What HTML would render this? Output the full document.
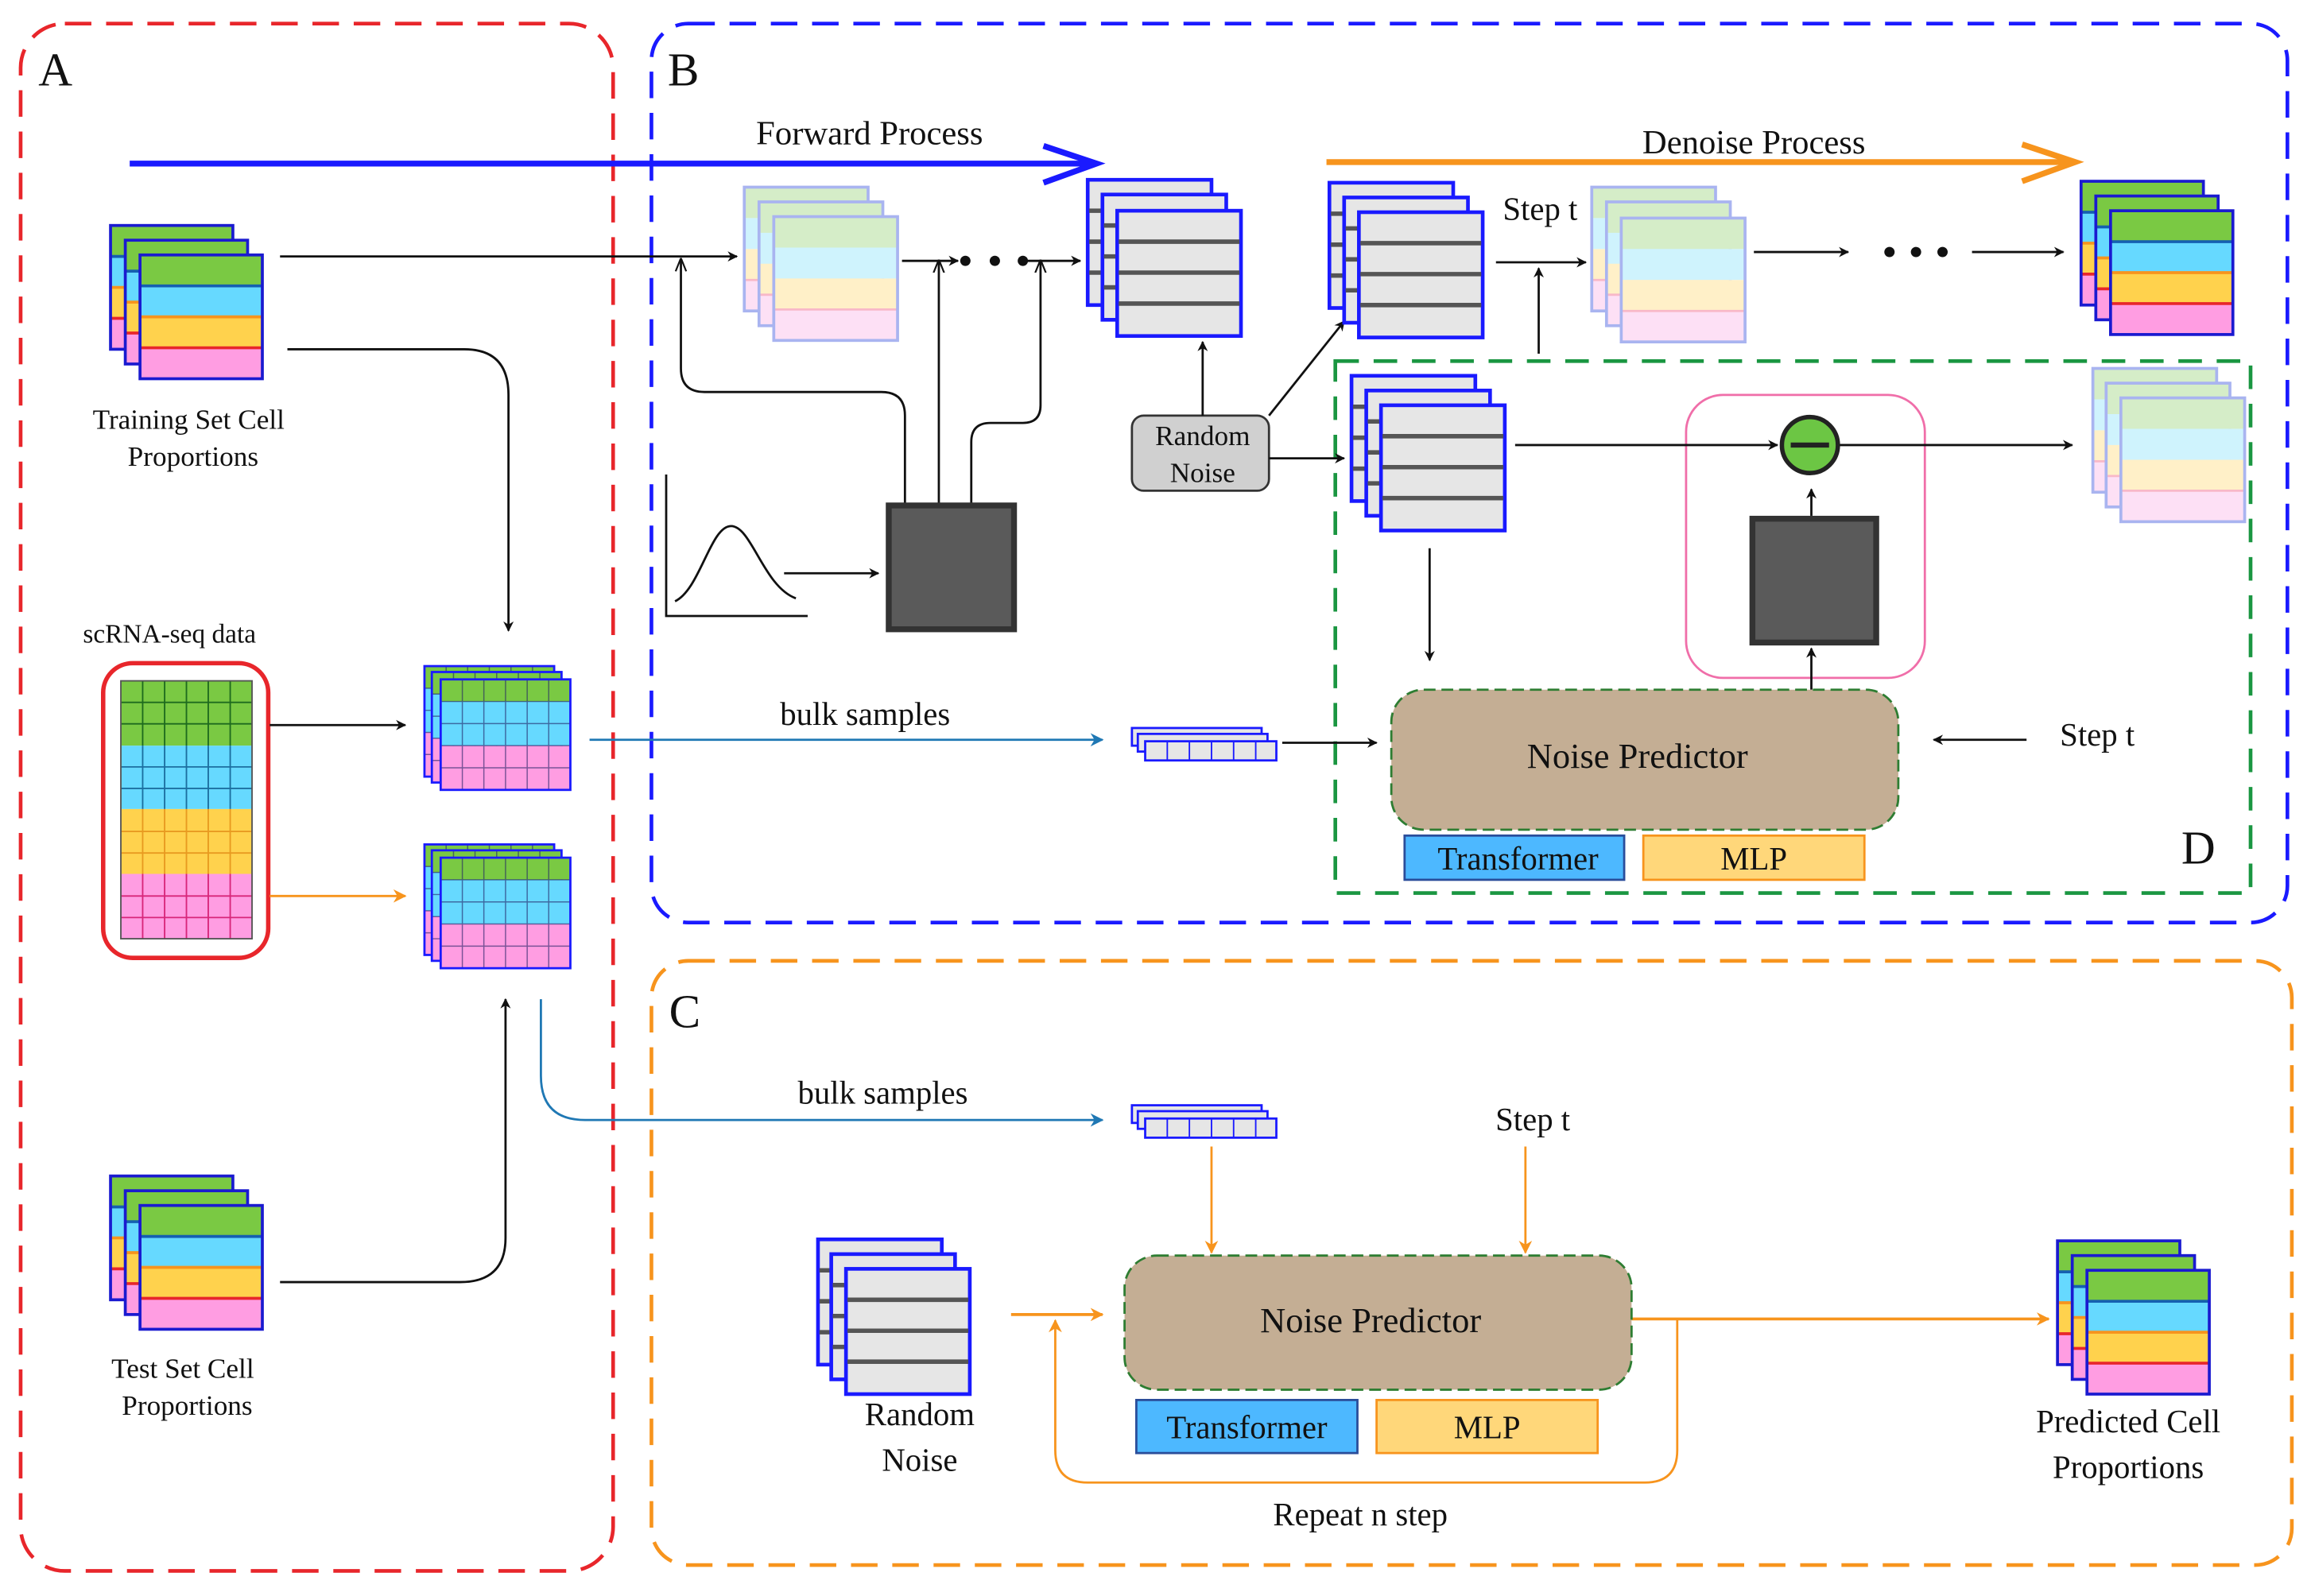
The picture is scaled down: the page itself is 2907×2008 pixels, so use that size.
<!DOCTYPE html>
<html><head><meta charset="utf-8"><style>html,body{margin:0;padding:0;background:#fff}svg{display:block}svg text{font-family:"Liberation Serif","DejaVu Serif",serif;fill:#111}</style></head><body>
<svg width="2907" height="2008" viewBox="0 0 1568 1083" preserveAspectRatio="none" xmlns="http://www.w3.org/2000/svg" font-family="'Liberation Serif', 'DejaVu Serif', serif">
<defs>
<marker id="ak" viewBox="0 0 10 10" refX="9" refY="5" markerWidth="7" markerHeight="7" orient="auto-start-reverse" markerUnits="userSpaceOnUse"><path d="M0,0 L10,5 L0,10 L3,5 z" fill="#111"/></marker>
<marker id="ao" viewBox="0 0 10 10" refX="9" refY="5" markerWidth="9" markerHeight="9" orient="auto" markerUnits="userSpaceOnUse"><path d="M0,0 L10,5 L0,10 L3,5 z" fill="#f7941d"/></marker>
<marker id="ab" viewBox="0 0 10 10" refX="9" refY="5" markerWidth="9" markerHeight="9" orient="auto" markerUnits="userSpaceOnUse"><path d="M0,0 L10,5 L0,10 L3,5 z" fill="#1f78b4"/></marker>
<marker id="av" viewBox="0 0 10 10" refX="9" refY="5" markerWidth="9" markerHeight="9" orient="auto" markerUnits="userSpaceOnUse"><path d="M0,1 L10,5 L0,9" fill="none" stroke="#111" stroke-width="1.3"/></marker>
<symbol id="cc" overflow="visible"><rect x="0" y="0" width="83" height="21" fill="#7ac943"/><rect x="0" y="21" width="83" height="21" fill="#66d9ff"/><rect x="0" y="42" width="83" height="21" fill="#ffd24d"/><rect x="0" y="63" width="83" height="21" fill="#ff9de2"/><line x1="0" y1="21" x2="83" y2="21" stroke="#1560b0" stroke-width="2"/><line x1="0" y1="42" x2="83" y2="42" stroke="#f7941d" stroke-width="2"/><line x1="0" y1="63" x2="83" y2="63" stroke="#e8262b" stroke-width="2"/><rect x="0" y="0" width="83" height="84" fill="none" stroke="#1a1ad0" stroke-width="2"/></symbol>
<symbol id="pc" overflow="visible"><rect x="0" y="0" width="84" height="21" fill="#d5edc8"/><rect x="0" y="21" width="84" height="21" fill="#cff3fd"/><rect x="0" y="42" width="84" height="21" fill="#fff0c8"/><rect x="0" y="63" width="84" height="21" fill="#fde0f5"/><line x1="0" y1="63" x2="84" y2="63" stroke="#f8b8c8" stroke-width="1.5"/><rect x="0" y="0" width="84" height="84" fill="none" stroke="#a9b4f0" stroke-width="2"/></symbol>
<symbol id="gc" overflow="visible"><rect x="0" y="0" width="84" height="85" fill="#e6e6e6" stroke="#1a1aff" stroke-width="2.5"/><line x1="1" y1="21" x2="83" y2="21" stroke="#555" stroke-width="3"/><line x1="1" y1="42" x2="83" y2="42" stroke="#555" stroke-width="3"/><line x1="1" y1="63" x2="83" y2="63" stroke="#555" stroke-width="3"/></symbol>
<symbol id="grd" overflow="visible"><rect x="0" y="0" width="88" height="15" fill="#7ac943"/><rect x="0" y="15" width="88" height="30" fill="#66d9ff"/><rect x="0" y="45" width="88" height="30" fill="#ff9de2"/><path d="M14.7,0V75M29.3,0V75M44,0V75M58.7,0V75M73.3,0V75M0,15H88M0,30H88M0,45H88M0,60H88" stroke="#226" stroke-width="0.8" opacity="0.6"/><rect x="0" y="0" width="88" height="75" fill="none" stroke="#1a1aff" stroke-width="1.5"/></symbol>
<symbol id="bk" overflow="visible"><rect x="0" y="0" width="88" height="12" fill="#e6e6e6" stroke="#1a1aff" stroke-width="1.5"/><rect x="4" y="4" width="88" height="12" fill="#e6e6e6" stroke="#1a1aff" stroke-width="1.5"/><rect x="9" y="9" width="89" height="13" fill="#e6e6e6" stroke="#1a1aff" stroke-width="1.5"/><path d="M24,9V22M39,9V22M54,9V22M69,9V22M84,9V22" stroke="#1a1aff" stroke-width="1"/></symbol>
</defs>

<rect x="14" y="16" width="402" height="1050" rx="30" fill="none" stroke="#e8262b" stroke-width="2.5" stroke-dasharray="18 10"/>
<rect x="442" y="16" width="1110" height="610" rx="25" fill="none" stroke="#1a1aff" stroke-width="2.5" stroke-dasharray="18 10"/>
<rect x="442" y="652" width="1113" height="410" rx="25" fill="none" stroke="#f7941d" stroke-width="2.5" stroke-dasharray="18 10"/>
<rect x="906" y="245" width="621" height="361" fill="none" stroke="#1a9641" stroke-width="2.5" stroke-dasharray="16 10"/>
<text x="26" y="58" font-size="32">A</text>
<text x="453" y="58" font-size="32">B</text>
<text x="454" y="697" font-size="32">C</text>
<text x="1480" y="586" font-size="32">D</text>

<line x1="88" y1="111" x2="742" y2="111" stroke="#1a1aff" stroke-width="4"/>
<path d="M708,99 L744,111 L708,124" fill="none" stroke="#1a1aff" stroke-width="4"/>
<text x="590" y="98" font-size="23" text-anchor="middle">Forward Process</text>
<line x1="900" y1="110" x2="1405" y2="110" stroke="#f7941d" stroke-width="4"/>
<path d="M1372,98 L1408,110 L1372,123" fill="none" stroke="#f7941d" stroke-width="4"/>
<text x="1190" y="104" font-size="23" text-anchor="middle">Denoise Process</text>

<use href="#cc" x="75" y="153"/><use href="#cc" x="85" y="163"/><use href="#cc" x="95" y="173"/>
<text x="128" y="291" font-size="19" text-anchor="middle">Training Set Cell</text>
<text x="131" y="316" font-size="19" text-anchor="middle">Proportions</text>
<use href="#cc" x="75" y="798"/><use href="#cc" x="85" y="808"/><use href="#cc" x="95" y="818"/>
<text x="124" y="935" font-size="19" text-anchor="middle">Test Set Cell</text>
<text x="127" y="960" font-size="19" text-anchor="middle">Proportions</text>
<text x="115" y="436" font-size="18" text-anchor="middle">scRNA-seq data</text>
<rect x="70" y="450" width="112" height="200" rx="20" fill="#fff" stroke="#e8262b" stroke-width="3"/>
<rect x="82" y="462" width="89" height="44" fill="#7ac943"/>
<rect x="82" y="506" width="89" height="43" fill="#66d9ff"/>
<rect x="82" y="549" width="89" height="44" fill="#ffd24d"/>
<rect x="82" y="593" width="89" height="44" fill="#ff9de2"/>
<g stroke-width="1"><path d="M96.8,462V506M111.7,462V506M126.5,462V506M141.3,462V506M156.2,462V506M82,476.6H171M82,491.2H171" stroke="#1e6b1e"/>
<path d="M96.8,506V549M111.7,506V549M126.5,506V549M141.3,506V549M156.2,506V549M82,520.4H171M82,535H171" stroke="#1c6fa0"/>
<path d="M96.8,549V593M111.7,549V593M126.5,549V593M141.3,549V593M156.2,549V593M82,564.2H171M82,578.8H171" stroke="#e89a20"/>
<path d="M96.8,593V637M111.7,593V637M126.5,593V637M141.3,593V637M156.2,593V637M82,608H171M82,622.6H171" stroke="#d8267a"/></g>
<rect x="82" y="462" width="89" height="175" fill="none" stroke="#555" stroke-width="1"/>
<use href="#grd" x="288" y="452"/><use href="#grd" x="293" y="456"/><use href="#grd" x="299" y="461"/>
<use href="#grd" x="288" y="573"/><use href="#grd" x="293" y="577"/><use href="#grd" x="299" y="582"/>
<g fill="none" stroke="#111" stroke-width="1.5">
<line x1="190" y1="174" x2="500" y2="174" marker-end="url(#ak)"/>
<path d="M195,237 H315 Q345,237 345,268 V428" marker-end="url(#ak)"/>
<line x1="183" y1="492" x2="275" y2="492" marker-end="url(#ak)"/>
<path d="M190,870 H312 Q343,870 343,840 V678" marker-end="url(#ak)"/>
</g>
<line x1="183" y1="608" x2="275" y2="608" stroke="#f7941d" stroke-width="1.5" marker-end="url(#ao)"/>
<line x1="400" y1="502" x2="748" y2="502" stroke="#1f78b4" stroke-width="1.5" marker-end="url(#ab)"/>
<text x="587" y="492" font-size="22" text-anchor="middle">bulk samples</text>
<path d="M367,678 V730 Q367,760 397,760 H748" fill="none" stroke="#1f78b4" stroke-width="1.5" marker-end="url(#ab)"/>
<text x="599" y="749" font-size="22" text-anchor="middle">bulk samples</text>

<use href="#pc" x="505" y="127"/><use href="#pc" x="515" y="137"/><use href="#pc" x="525" y="147"/>
<g fill="none" stroke="#111" stroke-width="1.5">
<line x1="612" y1="177" x2="650" y2="177" marker-end="url(#ak)"/>
<line x1="696" y1="177" x2="733" y2="177" marker-end="url(#ak)"/>
<path d="M614,342 V282 Q614,266 598,266 H478 Q462,266 462,250 V176" marker-end="url(#av)"/>
<line x1="637" y1="342" x2="637" y2="177" marker-end="url(#av)"/>
<path d="M659,342 V300 Q659,287 672,287 H694 Q706,287 706,275 V177" marker-end="url(#av)"/>
<path d="M452,322 V418 H548"/>
<path d="M458,408 C475,400 482,357 496,357 C510,357 518,398 540,406"/>
<line x1="532" y1="389" x2="596" y2="389" marker-end="url(#ak)"/>
</g>
<circle cx="655" cy="177" r="3.5" fill="#111"/><circle cx="675" cy="177" r="3.5" fill="#111"/><circle cx="694" cy="177" r="3.5" fill="#111"/>
<rect x="603" y="343" width="85" height="84" fill="#5a5a5a" stroke="#333" stroke-width="4"/>
<use href="#gc" x="738" y="122"/><use href="#gc" x="748" y="132"/><use href="#gc" x="758" y="143"/>
<rect x="768" y="282" width="93" height="51" rx="8" fill="#d0d0d0" stroke="#333" stroke-width="1.5"/>
<text x="816" y="302" font-size="19" text-anchor="middle">Random</text>
<text x="816" y="327" font-size="19" text-anchor="middle">Noise</text>
<g fill="none" stroke="#111" stroke-width="1.5">
<line x1="816" y1="282" x2="816" y2="232" marker-end="url(#ak)"/>
<line x1="861" y1="282" x2="912" y2="218" marker-end="url(#ak)"/>
<line x1="861" y1="311" x2="912" y2="311" marker-end="url(#ak)"/>
<line x1="1015" y1="178" x2="1076" y2="178" marker-end="url(#ak)"/>
<line x1="1044" y1="240" x2="1044" y2="182" marker-end="url(#ak)"/>
<line x1="1190" y1="171" x2="1254" y2="171" marker-end="url(#ak)"/>
<line x1="1338" y1="171" x2="1400" y2="171" marker-end="url(#ak)"/>
</g>
<use href="#gc" x="902" y="124"/><use href="#gc" x="912" y="134"/><use href="#gc" x="922" y="144"/>
<text x="1045" y="149" font-size="22" text-anchor="middle">Step t</text>
<use href="#pc" x="1080" y="127"/><use href="#pc" x="1090" y="137"/><use href="#pc" x="1100" y="148"/>
<circle cx="1282" cy="171" r="3.5" fill="#111"/><circle cx="1300" cy="171" r="3.5" fill="#111"/><circle cx="1318" cy="171" r="3.5" fill="#111"/>
<use href="#cc" x="1412" y="123"/><use href="#cc" x="1422" y="133"/><use href="#cc" x="1432" y="143"/>

<use href="#gc" x="917" y="255"/><use href="#gc" x="927" y="265"/><use href="#gc" x="937" y="275"/>
<rect x="1144" y="268" width="162" height="192" rx="25" fill="none" stroke="#f06ea9" stroke-width="1.5"/>
<rect x="1189" y="352" width="84" height="84" fill="#5a5a5a" stroke="#333" stroke-width="4"/>
<g fill="none" stroke="#111" stroke-width="1.5">
<line x1="1028" y1="302" x2="1206" y2="302" marker-end="url(#ak)"/>
<line x1="1248" y1="302" x2="1406" y2="302" marker-end="url(#ak)"/>
<line x1="1229" y1="350" x2="1229" y2="332" marker-end="url(#ak)"/>
<line x1="1229" y1="468" x2="1229" y2="440" marker-end="url(#ak)"/>
<line x1="970" y1="372" x2="970" y2="448" marker-end="url(#ak)"/>
<line x1="870" y1="504" x2="934" y2="504" marker-end="url(#ak)"/>
<line x1="1375" y1="502" x2="1312" y2="502" marker-end="url(#ak)"/>
</g>
<circle cx="1228" cy="302" r="19" fill="#6cc644" stroke="#222" stroke-width="3"/>
<line x1="1215" y1="302" x2="1241" y2="302" stroke="#222" stroke-width="3.5"/>
<use href="#pc" x="1420" y="250"/><use href="#pc" x="1429" y="260"/><use href="#pc" x="1439" y="270"/>
<rect x="944" y="468" width="344" height="95" rx="22" fill="#c4ae94" stroke="#2e7d32" stroke-width="1.5" stroke-dasharray="8 4"/>
<text x="1111" y="521" font-size="24" text-anchor="middle">Noise Predictor</text>
<rect x="953" y="567" width="149" height="30" fill="#4db8ff" stroke="#2a4d9a" stroke-width="1.5"/>
<text x="1030" y="590" font-size="22" text-anchor="middle">Transformer</text>
<rect x="1115" y="567" width="150" height="30" fill="#ffd77a" stroke="#f7941d" stroke-width="1.5"/>
<text x="1190" y="590" font-size="22" text-anchor="middle">MLP</text>
<text x="1423" y="506" font-size="22" text-anchor="middle">Step t</text>
<use href="#bk" x="768" y="494"/>

<use href="#bk" x="768" y="750"/>
<text x="1040" y="767" font-size="22" text-anchor="middle">Step t</text>
<g fill="none" stroke="#f7941d" stroke-width="1.5">
<line x1="822" y1="778" x2="822" y2="850" marker-end="url(#ao)"/>
<line x1="1035" y1="778" x2="1035" y2="850" marker-end="url(#ao)"/>
<line x1="686" y1="892" x2="748" y2="892" stroke-width="2" marker-end="url(#ao)"/>
<line x1="1107" y1="895" x2="1390" y2="895" stroke-width="2" marker-end="url(#ao)"/>
<path d="M1138,895 V984 Q1138,1006 1116,1006 H738 Q716,1006 716,984 V896" marker-end="url(#ao)"/>
</g>
<use href="#gc" x="555" y="841"/><use href="#gc" x="564" y="851"/><use href="#gc" x="574" y="861"/>
<text x="624" y="967" font-size="22" text-anchor="middle">Random</text>
<text x="624" y="998" font-size="22" text-anchor="middle">Noise</text>
<rect x="763" y="852" width="344" height="91" rx="22" fill="#c4ae94" stroke="#2e7d32" stroke-width="1.5" stroke-dasharray="8 4"/>
<text x="930" y="904" font-size="24" text-anchor="middle">Noise Predictor</text>
<rect x="771" y="950" width="150" height="36" fill="#4db8ff" stroke="#2a4d9a" stroke-width="1.5"/>
<text x="846" y="976" font-size="22" text-anchor="middle">Transformer</text>
<rect x="934" y="950" width="150" height="36" fill="#ffd77a" stroke="#f7941d" stroke-width="1.5"/>
<text x="1009" y="976" font-size="22" text-anchor="middle">MLP</text>
<text x="923" y="1035" font-size="22" text-anchor="middle">Repeat n step</text>
<use href="#cc" x="1396" y="842"/><use href="#cc" x="1406" y="852"/><use href="#cc" x="1416" y="862"/>
<text x="1444" y="972" font-size="22" text-anchor="middle">Predicted Cell</text>
<text x="1444" y="1003" font-size="22" text-anchor="middle">Proportions</text>
</svg>
</body></html>
